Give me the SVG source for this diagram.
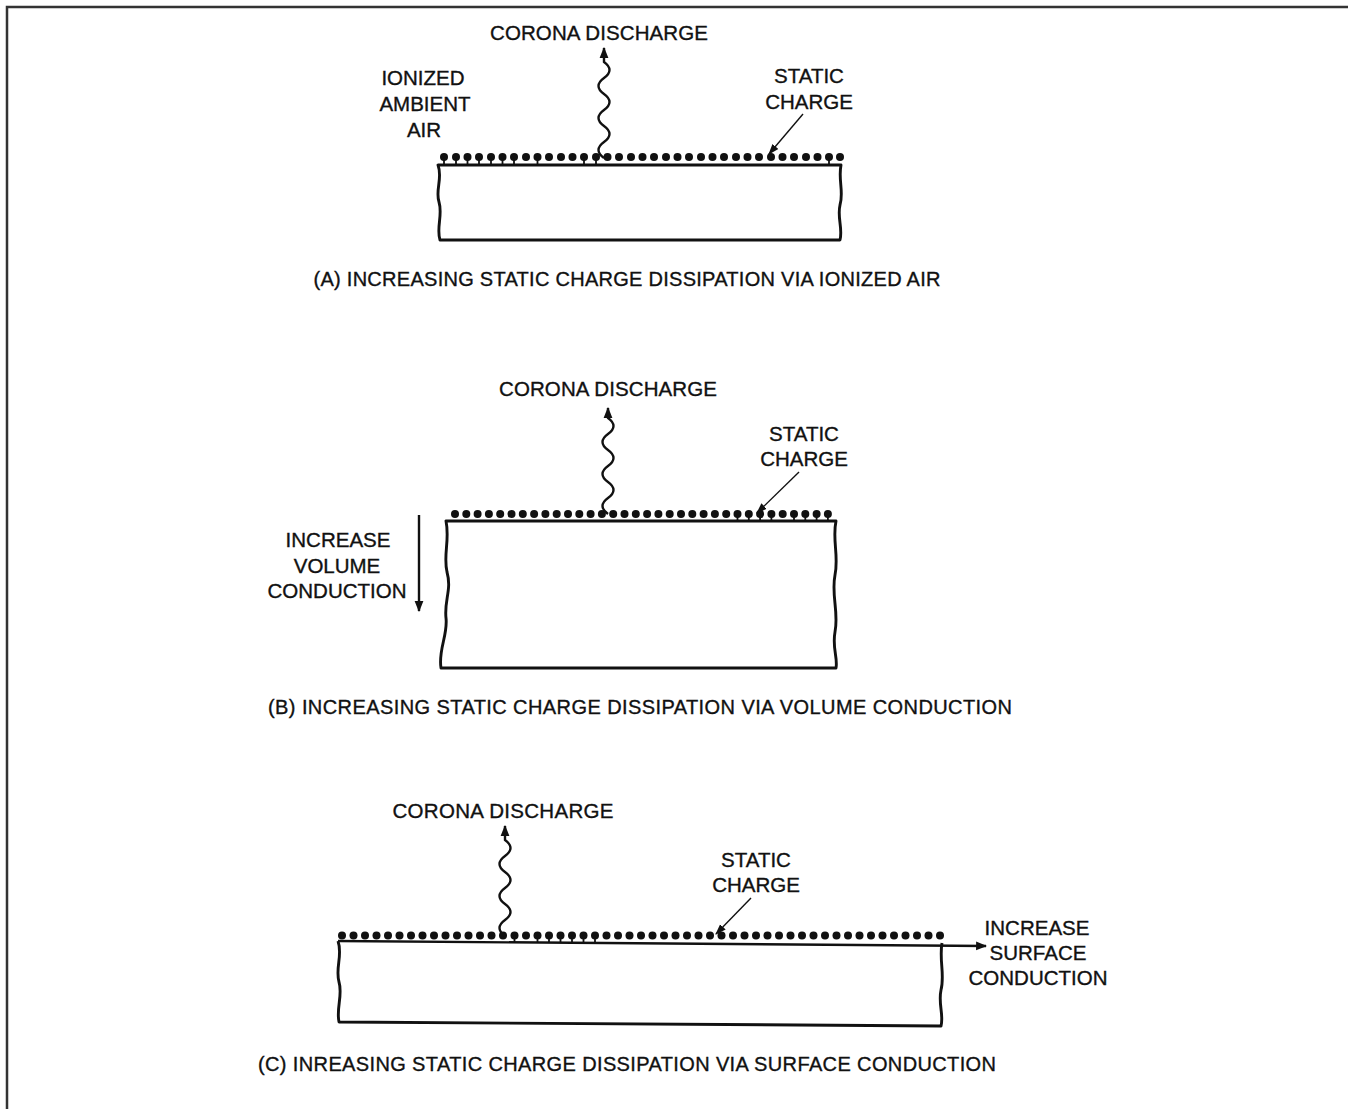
<svg xmlns="http://www.w3.org/2000/svg" width="1348" height="1109" viewBox="0 0 1348 1109">
<style>
text{font-family:"Liberation Sans",Arial,sans-serif;font-size:20.5px;fill:#111;stroke:#111;stroke-width:0.35;text-anchor:middle}
.cap{font-size:20px}
.blk{fill:none;stroke:#111;stroke-width:2.9;stroke-linejoin:round}
.wave{fill:none;stroke:#111;stroke-width:2.4}
.ld{fill:none;stroke:#111;stroke-width:1.4}
.arr{fill:none;stroke:#111;stroke-width:2.4}
.stem{stroke:#111;stroke-width:1.8}
</style>
<defs>
<marker id="ah" viewBox="0 0 10 10" refX="9" refY="5" markerWidth="11" markerHeight="11" markerUnits="userSpaceOnUse" orient="auto"><path d="M0,1 L10,5 L0,9 Z" fill="#111"/></marker>
<marker id="ahs" viewBox="0 0 10 10" refX="9" refY="5" markerWidth="11" markerHeight="11" markerUnits="userSpaceOnUse" orient="auto"><path d="M0,1.5 L10,5 L0,8.5 Z" fill="#111"/></marker>
</defs>
<rect width="1348" height="1109" fill="#fff"/>
<g id="frame"><path d="M7,1109 L7,7 L1348,7" fill="none" stroke="#333" stroke-width="2.5"/></g>

<g id="panelA">
<g id="blockA"><path class="blk" d="M438,165 L841,165 C838,180 844,192 840,205 C837,218 843,228 840,240 L440,240 C436,228 443,215 439,202 C435,190 443,178 438,165 Z"/></g>
<g id="chargeA">
<g fill="#111">
<circle cx="444" cy="157" r="4"/><circle cx="456" cy="157" r="4"/><circle cx="467.5" cy="157" r="4"/><circle cx="479" cy="157" r="4"/><circle cx="491" cy="157" r="4"/><circle cx="502.5" cy="157" r="4"/><circle cx="514" cy="157" r="4"/><circle cx="526" cy="157" r="4"/><circle cx="537.5" cy="157" r="4"/><circle cx="549" cy="157" r="4"/><circle cx="561" cy="157" r="4"/><circle cx="572.5" cy="157" r="4"/><circle cx="584" cy="157" r="4"/><circle cx="596" cy="157" r="4"/><circle cx="607.5" cy="157" r="4"/><circle cx="619" cy="157" r="4"/><circle cx="631" cy="157" r="4"/><circle cx="642.5" cy="157" r="4"/><circle cx="654" cy="157" r="4"/><circle cx="666" cy="157" r="4"/><circle cx="677.5" cy="157" r="4"/><circle cx="689" cy="157" r="4"/><circle cx="701" cy="157" r="4"/><circle cx="712.5" cy="157" r="4"/><circle cx="724" cy="157" r="4"/><circle cx="736" cy="157" r="4"/><circle cx="747.5" cy="157" r="4"/><circle cx="759" cy="157" r="4"/><circle cx="771" cy="157" r="4"/><circle cx="782.5" cy="157" r="4"/><circle cx="794" cy="157" r="4"/><circle cx="806" cy="157" r="4"/><circle cx="817.5" cy="157" r="4"/><circle cx="829" cy="157" r="4"/><circle cx="840" cy="157" r="4"/>
</g>
<path class="stem" d="M444,157V165M456,157V165M467.5,157V165M479,157V165M491,157V165M502.5,157V165M514,157V165M537.5,157V165M584,157V165M596,157V165M829,157V165"/>
</g>
<text x="599" y="40" textLength="218">CORONA DISCHARGE</text>
<text x="423" y="85">IONIZED</text>
<text x="425" y="111">AMBIENT</text>
<text x="424" y="137">AIR</text>
<text x="809" y="83">STATIC</text>
<text x="809" y="109">CHARGE</text>
<text class="cap" x="627" y="286" textLength="627">(A) INCREASING STATIC CHARGE DISSIPATION VIA IONIZED AIR</text>
</g>

<g id="panelB">
<g id="blockB"><path class="blk" d="M446,521 L836,521 C832,540 839,555 835,575 C831,595 839,612 835,632 C832,648 838,658 836,668 L441,668 C438,650 448,635 446,618 C444,600 452,590 447,572 C443,555 450,540 446,521 Z"/></g>
<g id="chargeB">
<g fill="#111">
<circle cx="455" cy="514" r="4"/><circle cx="466.3" cy="514" r="4"/><circle cx="477.6" cy="514" r="4"/><circle cx="488.9" cy="514" r="4"/><circle cx="500.2" cy="514" r="4"/><circle cx="511.5" cy="514" r="4"/><circle cx="522.8" cy="514" r="4"/><circle cx="534.1" cy="514" r="4"/><circle cx="545.4" cy="514" r="4"/><circle cx="556.7" cy="514" r="4"/><circle cx="568" cy="514" r="4"/><circle cx="579.3" cy="514" r="4"/><circle cx="590.6" cy="514" r="4"/><circle cx="601.9" cy="514" r="4"/><circle cx="613.2" cy="514" r="4"/><circle cx="624.5" cy="514" r="4"/><circle cx="635.8" cy="514" r="4"/><circle cx="647.1" cy="514" r="4"/><circle cx="658.4" cy="514" r="4"/><circle cx="669.7" cy="514" r="4"/><circle cx="681" cy="514" r="4"/><circle cx="692.3" cy="514" r="4"/><circle cx="703.6" cy="514" r="4"/><circle cx="714.9" cy="514" r="4"/><circle cx="726.2" cy="514" r="4"/><circle cx="737.5" cy="514" r="4"/><circle cx="748.8" cy="514" r="4"/><circle cx="760.1" cy="514" r="4"/><circle cx="771.4" cy="514" r="4"/><circle cx="782.7" cy="514" r="4"/><circle cx="794" cy="514" r="4"/><circle cx="805.3" cy="514" r="4"/><circle cx="816.6" cy="514" r="4"/><circle cx="827.9" cy="514" r="4"/>
</g>
<path class="stem" d="M737.5,514V521M748.8,514V521M760.1,514V521M771.4,514V521M794,514V521M805.3,514V521M816.6,514V521M827.9,514V521"/>
</g>
<text x="608" y="396" textLength="218">CORONA DISCHARGE</text>
<text x="804" y="441">STATIC</text>
<text x="804" y="466">CHARGE</text>
<text x="338" y="547">INCREASE</text>
<text x="337" y="573">VOLUME</text>
<text x="337" y="598">CONDUCTION</text>
<text class="cap" x="640" y="714" textLength="744">(B) INCREASING STATIC CHARGE DISSIPATION VIA VOLUME CONDUCTION</text>
</g>

<g id="panelC">
<g id="blockC"><path class="blk" d="M942,943 C939,960 945,975 941,990 C938,1004 944,1015 941,1026 L339,1022 C336,1008 343,995 339,982 C335,968 343,955 338,941"/></g>
<g id="chargeC">
<g fill="#111">
<circle cx="342" cy="935.5" r="4"/><circle cx="353.5" cy="935.5" r="4"/><circle cx="365" cy="935.5" r="4"/><circle cx="376.5" cy="935.5" r="4"/><circle cx="388" cy="935.5" r="4"/><circle cx="399.5" cy="935.5" r="4"/><circle cx="411" cy="935.5" r="4"/><circle cx="422.5" cy="935.5" r="4"/><circle cx="434" cy="935.5" r="4"/><circle cx="445.5" cy="935.5" r="4"/><circle cx="457" cy="935.5" r="4"/><circle cx="468.5" cy="935.5" r="4"/><circle cx="480" cy="935.5" r="4"/><circle cx="491.5" cy="935.5" r="4"/><circle cx="503" cy="935.5" r="4"/><circle cx="514.5" cy="935.5" r="4"/><circle cx="526" cy="935.5" r="4"/><circle cx="537.5" cy="935.5" r="4"/><circle cx="549" cy="935.5" r="4"/><circle cx="560.5" cy="935.5" r="4"/><circle cx="572" cy="935.5" r="4"/><circle cx="583.5" cy="935.5" r="4"/><circle cx="595" cy="935.5" r="4"/><circle cx="606.5" cy="935.5" r="4"/><circle cx="618" cy="935.5" r="4"/><circle cx="629.5" cy="935.5" r="4"/><circle cx="641" cy="935.5" r="4"/><circle cx="652.5" cy="935.5" r="4"/><circle cx="664" cy="935.5" r="4"/><circle cx="675.5" cy="935.5" r="4"/><circle cx="687" cy="935.5" r="4"/><circle cx="698.5" cy="935.5" r="4"/><circle cx="710" cy="935.5" r="4"/><circle cx="721.5" cy="935.5" r="4"/><circle cx="733" cy="935.5" r="4"/><circle cx="744.5" cy="935.5" r="4"/><circle cx="756" cy="935.5" r="4"/><circle cx="767.5" cy="935.5" r="4"/><circle cx="779" cy="935.5" r="4"/><circle cx="790.5" cy="935.5" r="4"/><circle cx="802" cy="935.5" r="4"/><circle cx="813.5" cy="935.5" r="4"/><circle cx="825" cy="935.5" r="4"/><circle cx="836.5" cy="935.5" r="4"/><circle cx="848" cy="935.5" r="4"/><circle cx="859.5" cy="935.5" r="4"/><circle cx="871" cy="935.5" r="4"/><circle cx="882.5" cy="935.5" r="4"/><circle cx="894" cy="935.5" r="4"/><circle cx="905.5" cy="935.5" r="4"/><circle cx="917" cy="935.5" r="4"/><circle cx="928.5" cy="935.5" r="4"/><circle cx="940" cy="935.5" r="4"/>
</g>
<path class="stem" d="M514.5,935.5V942M537.5,935.5V942M549,935.5V942M560.5,935.5V942M572,935.5V942M583.5,935.5V942M595,935.5V942"/>
</g>
<text x="503" y="818" textLength="221">CORONA DISCHARGE</text>
<text x="756" y="867">STATIC</text>
<text x="756" y="892">CHARGE</text>
<text x="1037" y="935">INCREASE</text>
<text x="1038" y="960">SURFACE</text>
<text x="1038" y="985">CONDUCTION</text>
<text class="cap" x="627" y="1071" textLength="738">(C) INREASING STATIC CHARGE DISSIPATION VIA SURFACE CONDUCTION</text>
</g>

<g id="connectors">
<path class="wave" marker-end="url(#ah)" d="M604,158 q-11,-8 0,-16 t0,-16 t0,-16 t0,-16 t0,-16 t0,-16 L604,48"/>
<path class="ld" marker-end="url(#ahs)" d="M803,114 L769,154"/>
<path class="wave" marker-end="url(#ah)" d="M608,514 q-11,-8 0,-16 t0,-16 t0,-16 t0,-16 t0,-16 t0,-16 L608,408"/>
<path class="ld" marker-end="url(#ahs)" d="M799,472 L757,513"/>
<path class="arr" marker-end="url(#ah)" d="M419,515 L419,611"/>
<path class="wave" marker-end="url(#ah)" d="M505,936 q-11,-8 0,-16 t0,-16 t0,-16 t0,-16 t0,-16 t0,-16 L505,826"/>
<path class="ld" marker-end="url(#ahs)" d="M751,898 L716,934"/>
<path class="arr" marker-end="url(#ah)" d="M338,941 L986,946"/>
</g>
</svg>
